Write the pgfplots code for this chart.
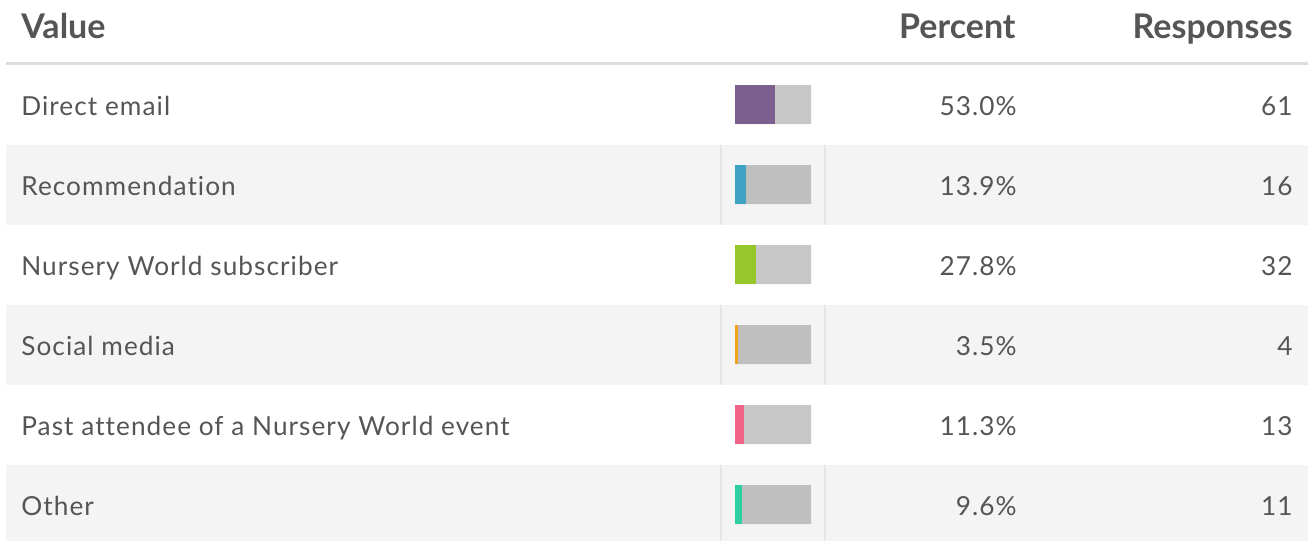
\documentclass[border=0pt]{standalone}
\usepackage{pgfplots}
\pgfplotsset{compat=1.18}
\usepackage{pgfplotstable}
\usepackage{fontspec}
\setmainfont{Lato}
\newfontfamily\bodyfont[LetterSpace=4, Ligatures=NoCommon]{Lato}
\newfontfamily\headfont{Lato Bold}

\definecolor{txt}{HTML}{555555}
\definecolor{stripe}{HTML}{F4F4F4}
\definecolor{rule}{HTML}{DDDDDD}
\definecolor{vline}{HTML}{E6E6E6}
\definecolor{cPurple}{HTML}{7D5F8F}
\definecolor{cBlue}{HTML}{3FA4C4}
\definecolor{cGreen}{HTML}{96C72A}
\definecolor{cOrange}{HTML}{F0A11E}
\definecolor{cPink}{HTML}{F06487}
\definecolor{cTeal}{HTML}{2ECFA0}

% row, percent, responses
\pgfplotstableread{
row pct resp
1 53.0 61
2 13.9 16
3 27.8 32
4 3.5 4
5 11.3 13
6 9.6 11
}\responses

\tikzset{
  head/.style={inner sep=0, text=txt, font=\headfont\fontsize{17}{19}\selectfont},
  body/.style={inner sep=0, text=txt, font=\bodyfont\fontsize{13.1}{15}\selectfont},
  lab/.style={body, anchor=base west},
  num/.style={body, anchor=base east},
}

\begin{document}
\begin{tikzpicture}
% page layout in pixel units, 1px = 0.5pt
\begin{axis}[
  name=ax, at={(0,0)}, anchor=south west,
  x=0.5pt, y=0.5pt, y dir=reverse,
  xmin=0, xmax=1308, ymin=0, ymax=541,
  hide axis, clip=false,
]
\fill[white] (axis cs:0,0) rectangle (axis cs:1308,541);
\fill[stripe] (axis cs:6,145) rectangle (axis cs:1308,225);
\fill[stripe] (axis cs:6,305) rectangle (axis cs:1308,385);
\fill[stripe] (axis cs:6,465) rectangle (axis cs:1308,541);
\draw[vline, line width=0.6pt] (axis cs:721,145) -- (axis cs:721,225) (axis cs:825,145) -- (axis cs:825,225);
\draw[vline, line width=0.6pt] (axis cs:721,305) -- (axis cs:721,385) (axis cs:825,305) -- (axis cs:825,385);
\draw[vline, line width=0.6pt] (axis cs:721,465) -- (axis cs:721,541) (axis cs:825,465) -- (axis cs:825,541);
\fill[rule] (axis cs:6,62) rectangle (axis cs:1308,65);
% header
\node[head, anchor=base west] at (axis cs:21,38) {Value};
\node[head, anchor=base east] at (axis cs:1016,38) {Percent};
\node[head, anchor=base east] at (axis cs:1293,38) {Responses};
% labels
\node[lab] at (axis cs:21,115) {Direct email};
\node[lab] at (axis cs:21,195) {Recommendation};
\node[lab] at (axis cs:21,275) {Nursery World subscriber};
\node[lab] at (axis cs:21,355) {Social media};
\node[lab] at (axis cs:21,435) {Past attendee of a Nursery World event};
\node[lab] at (axis cs:21,515) {Other};
% percent
\node[num] at (axis cs:1017,115) {53.0\%};
\node[num] at (axis cs:1017,195) {13.9\%};
\node[num] at (axis cs:1017,275) {27.8\%};
\node[num] at (axis cs:1017,355) {3.5\%};
\node[num] at (axis cs:1017,435) {11.3\%};
\node[num] at (axis cs:1017,515) {9.6\%};
% responses
\node[num] at (axis cs:1293,115) {61};
\node[num] at (axis cs:1293,195) {16};
\node[num] at (axis cs:1293,275) {32};
\node[num] at (axis cs:1293,355) {4};
\node[num] at (axis cs:1293,435) {13};
\node[num] at (axis cs:1293,515) {11};
\end{axis}

% bar column: x 735..811 px, rows centred at 104.5 + 80k px
\begin{axis}[
  at={(386.5pt,118.25pt)}, anchor=center,
  scale only axis, width=38pt, height=240pt,
  xmin=0, xmax=100, ymin=0.5, ymax=6.5, y dir=reverse,
  hide axis, clip=false,
  xbar, bar width=19.5pt, bar shift=0pt,
]
\addplot[draw=none, fill=black, fill opacity=0.215] table[x expr=100, y=row] {\responses};
\addplot[draw=none, fill=cPurple] table[x=pct, y=row, restrict expr to domain={\thisrow{row}}{1:1}] {\responses};
\addplot[draw=none, fill=cBlue]   table[x=pct, y=row, restrict expr to domain={\thisrow{row}}{2:2}] {\responses};
\addplot[draw=none, fill=cGreen]  table[x=pct, y=row, restrict expr to domain={\thisrow{row}}{3:3}] {\responses};
\addplot[draw=none, fill=cOrange] table[x=pct, y=row, restrict expr to domain={\thisrow{row}}{4:4}] {\responses};
\addplot[draw=none, fill=cPink]   table[x=pct, y=row, restrict expr to domain={\thisrow{row}}{5:5}] {\responses};
\addplot[draw=none, fill=cTeal]   table[x=pct, y=row, restrict expr to domain={\thisrow{row}}{6:6}] {\responses};
\end{axis}
\pgfresetboundingbox
\useasboundingbox (ax.south west) rectangle (ax.north east);
\end{tikzpicture}
\end{document}
